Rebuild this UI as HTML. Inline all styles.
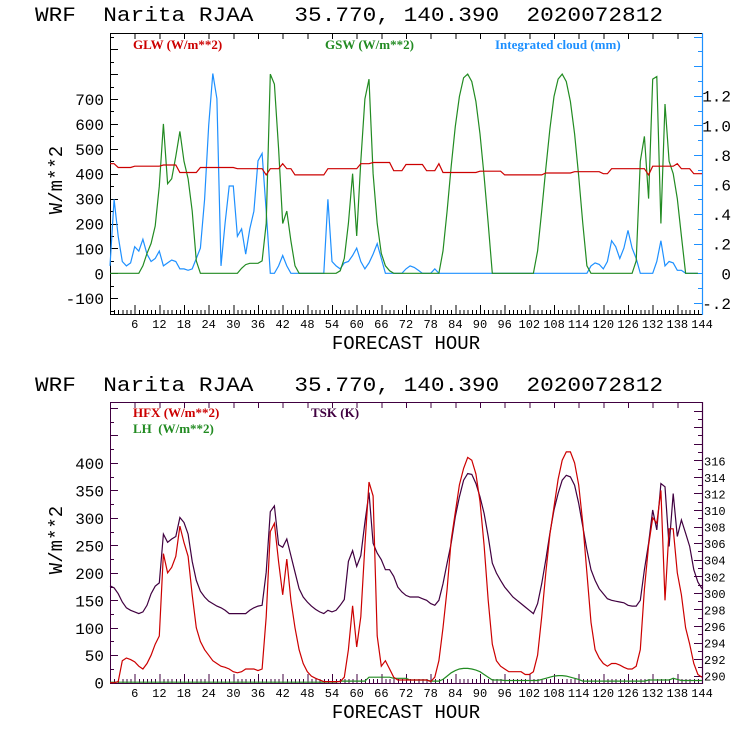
<!DOCTYPE html>
<html><head><meta charset="utf-8"><style>
html,body{margin:0;padding:0;background:#fff;}
svg{display:block;}
text{font-family:"Liberation Mono","DejaVu Sans Mono",monospace;white-space:pre;}
.lg{font-family:"Liberation Serif","DejaVu Serif",serif;font-size:13px;font-weight:bold;}
</style></head><body>
<svg id="chart" width="740" height="740" viewBox="0 0 740 740" xmlns="http://www.w3.org/2000/svg">
<text x="35" y="21" font-size="20" xml:space="preserve" textLength="628" lengthAdjust="spacingAndGlyphs">WRF  Narita RJAA   35.770, 140.390  2020072812</text>
<text x="35" y="391" font-size="20" xml:space="preserve" textLength="628" lengthAdjust="spacingAndGlyphs">WRF  Narita RJAA   35.770, 140.390  2020072812</text>
<g id="topPanel"></g>
<g id="botPanel"></g>
</svg>
<script>
const hours = [];
for (let h = 0; h <= 144; h++) hours.push(h);
const xTickLabels = ["6","12","18","24","30","36","42","48","54","60","66","72","78","84","90","96","102","108","114","120","126","132","138","144"];
const topLeftTicks = ["-100","0","100","200","300","400","500","600","700"];
const topRightTicks = ["-.2","0",".2",".4",".6",".8","1.0","1.2"];
const botLeftTicks = ["0","50","100","150","200","250","300","350","400"];
const botRightTicks = ["290","292","294","296","298","300","302","304","306","308","310","312","314","316"];

const glw = [440,440,425,425,425,425,430,430,430,430,430,430,430,435,435,435,435,405,405,405,405,405,425,425,425,425,425,425,425,425,425,420,420,420,420,420,420,420,395,420,420,420,440,420,420,395,395,395,395,395,395,395,395,420,420,420,420,420,420,420,420,440,440,440,445,445,445,445,445,412,412,412,437,437,437,437,437,412,412,412,440,405,405,405,405,405,405,405,405,405,410,410,410,410,410,410,395,395,395,395,395,395,395,395,395,395,403,403,403,403,403,403,403,408,408,408,408,408,408,408,400,400,420,420,420,420,420,420,420,420,420,395,430,430,430,430,430,430,440,420,420,420,400,400,400];
const gsw = [0,0,0,0,0,0,0,0,30,80,120,190,350,600,360,380,470,570,450,380,250,50,0,0,0,0,0,0,0,0,0,0,20,35,40,40,40,50,200,800,760,500,200,250,130,30,0,0,0,0,0,0,0,0,0,0,10,60,200,400,150,450,700,780,400,200,80,30,10,0,0,0,0,0,0,0,0,0,0,0,0,90,250,430,590,710,785,800,770,690,560,390,200,0,0,0,0,0,0,0,0,0,0,0,90,250,420,580,710,780,800,770,690,560,390,200,30,0,0,0,0,0,0,0,0,0,0,0,50,450,550,300,780,790,200,680,450,400,300,150,0,0,0,0];
const cloud = [0.05,0.5,0.25,0.08,0.05,0.07,0.18,0.15,0.23,0.13,0.08,0.1,0.15,0.05,0.07,0.09,0.08,0.03,0.03,0.02,0.03,0.1,0.17,0.5,1.0,1.35,1.18,0.05,0.34,0.59,0.59,0.25,0.3,0.13,0.3,0.42,0.76,0.81,0.42,0,0,0.05,0.12,0.05,0,0,0,0,0,0,0,0,0,0.5,0.08,0.05,0.03,0.07,0.08,0.12,0.17,0.08,0.03,0.07,0.13,0.2,0.1,0,0,0,0,0,0.03,0.05,0.04,0.02,0,0,0,0.03,0,0,0,0,0,0,0,0,0,0,0,0,0,0,0,0,0,0,0,0,0,0,0,0,0,0,0,0,0,0,0,0,0,0,0,0,0,0.05,0.07,0.06,0.03,0.08,0.22,0.18,0.1,0.17,0.29,0.17,0.1,0,0,0,0,0.08,0.22,0.05,0.08,0.07,0.02,0.02,0,0,0,0];
const hfx = [0,0,2,40,45,42,38,30,25,35,50,70,85,235,200,210,230,285,255,230,160,100,75,60,50,40,35,30,28,25,20,18,20,25,25,25,22,25,120,275,290,220,160,225,150,100,60,35,20,12,8,5,2,2,2,2,2,10,60,140,65,120,250,365,340,85,30,40,25,10,5,5,5,5,5,5,5,5,2,10,40,100,170,260,310,360,390,410,405,380,330,250,150,70,40,30,25,20,20,20,20,15,15,20,50,120,200,270,320,370,405,420,420,400,360,290,200,110,60,45,35,30,35,35,32,28,25,25,30,60,170,250,300,290,350,150,280,280,200,160,100,70,35,15,10];
const lh = [1,1,1,1,1,1,1,1,1,1,1,1,1,1,1,1,1,1,1,1,1,1,1,1,1,1,1,1,1,1,1,1,1,1,1,1,1,1,1,1,1,1,1,1,1,1,1,1,1,1,1,1,1,1,1,1,3,3,3,3,3,3,3,10,10,10,10,10,10,8,8,8,8,5,5,5,5,5,3,3,3,6,12,18,22,25,26,26,25,23,20,15,10,5,5,5,4,4,4,4,4,4,4,4,4,6,8,10,12,13,13,12,10,8,6,3,3,3,3,3,3,3,3,3,3,3,3,3,3,3,3,5,5,5,5,5,5,8,6,4,4,4,4,4,4];
const tsk = [300.85,300.6,299.9,298.9,298.2,297.9,297.7,297.5,297.7,298.5,299.9,300.8,301.2,307.1,306.1,306.5,306.8,309.1,308.5,307.1,303.8,301.5,300.2,299.5,299.0,298.7,298.4,298.2,297.9,297.5,297.5,297.5,297.5,297.5,297.9,298.2,298.4,298.5,302.5,309.8,310.5,305.8,305.5,306.5,304.5,302.5,300.5,299.5,298.9,298.4,298.0,297.7,297.5,297.9,297.7,297.9,298.5,299.2,303.8,305.1,303.2,304.5,308.5,312.1,306,304.8,304,302.8,302.8,302,300.7,300.1,299.7,299.5,299.5,299.5,299.3,299.1,298.7,298.5,299.1,301.1,303.6,306,309.2,311.6,313.6,314.4,314.3,313.2,311.6,309.6,306.8,303.6,302.4,301.5,300.7,300.1,299.5,299.1,298.7,298.3,297.9,297.5,298.7,301.1,304,307.2,310,312,313.6,314.2,314,313,310.8,308,305.2,302.8,301.5,300.5,299.9,299.3,299.1,299.0,298.9,298.8,298.5,298.4,298.4,299.1,302.8,306,310,307.6,313.2,312.8,305.6,312,306.8,308.8,307.2,305.6,302.8,301.3,300.5];

const NS = "http://www.w3.org/2000/svg";
const X0 = 110, X1 = 702;
const xs = h => X0 + (X1 - X0) * h / 144;
function mk(parent, tag, attrs) {
  const e = document.createElementNS(NS, tag);
  for (const k in attrs) e.setAttribute(k, attrs[k]);
  parent.appendChild(e);
  return e;
}
function line(g, x1, y1, x2, y2, c) {
  const l = mk(g, "line", {x1, y1, x2, y2, stroke: c, "stroke-width": 1, "shape-rendering": "crispEdges"});
  
  
  return l;
}
function txt(g, x, y, s, size, anchor, fill, name) {
  const t = mk(g, "text", {x, y, "font-size": size, "text-anchor": anchor, fill});
  t.textContent = s;
  
  
  return t;
}
function series(g, vals, ys, color, name) {
  let d = "";
  vals.forEach((v, i) => { d += (i ? "L" : "M") + xs(hours[i]).toFixed(1) + " " + ys(v).toFixed(1); });
  const p = mk(g, "path", {d, fill: "none", stroke: color, "stroke-width": 1.2});
  
  
}
function panel(g, Y0, Y1, frameColor, rightColor) {
  const r = mk(g, "rect", {x: X0 + 0.5, y: Y0 + 0.5, width: X1 - X0, height: Y1 - Y0, fill: "none", stroke: frameColor, "stroke-width": 1, "shape-rendering": "crispEdges"});
  
  
  const rl = mk(g, "line", {x1: X1 + 0.5, y1: Y0, x2: X1 + 0.5, y2: Y1 + 1, stroke: rightColor, "stroke-width": 1.2});
  
  
  for (let h = 1; h < 144; h++) {
    const big = h % 6 === 0;
    line(g, xs(h) + 0.5, Y1, xs(h) + 0.5, Y1 - (big ? 9 : 4), frameColor);
    if (big) line(g, xs(h) + 0.5, Y0, xs(h) + 0.5, Y0 + 6, frameColor);
  }
  xTickLabels.forEach(s => txt(g, xs(+s), Y1 + 14, s, 12, "middle", "#000", "x-tick-label"));
  txt(g, 406, Y1 + 35, "FORECAST HOUR", 19, "middle", "#000", "x-axis-title");
}

// TOP PANEL
const topG = document.getElementById("topPanel");
const tY0 = 33, tY1 = 314;
const yL = v => 273.3 - v * 0.249;
const yR = v => 273.3 - v * 148;
panel(topG, tY0, tY1, "#000", "#1e90ff");
for (let v = -150; v <= 950; v += 50) {
  const y = Math.round(yL(v)) + 0.5;
  if (y < tY0 || y > tY1) continue;
  line(topG, X0, y, X0 + (v % 100 === 0 ? 8 : 4), y, "#000");
}
topLeftTicks.forEach(s => txt(topG, 104, yL(+s) + 6, s, 16, "end", "#000", "y-left-tick-label"));
for (let k = -2; k <= 16; k++) {
  const y = Math.round(yR(k / 10)) + 0.5;
  if (y < tY0 || y > tY1) continue;
  line(topG, X1, y, X1 - (k % 2 === 0 ? 8 : 4), y, "#1e90ff");
}
topRightTicks.forEach(s => txt(topG, 731, yR(parseFloat(s)) + 6, s, 16, "end", "#000", "y-right-tick-label"));
const tl = txt(topG, 0, 0, "W/m**2", 19, "middle", "#000", "y-axis-title");
tl.setAttribute("transform", "translate(62,180) rotate(-90)");
series(topG, cloud, yR, "#1e90ff", "cloud-line");
series(topG, gsw, yL, "#228b22", "gsw-line");
series(topG, glw, yL, "#cc0000", "glw-line");
[["GLW (W/m**2)", 133, "#cc0000", "legend-glw"], ["GSW (W/m**2)", 325, "#228b22", "legend-gsw"], ["Integrated cloud (mm)", 495, "#1e90ff", "legend-cloud"]].forEach(a => {
  const t = txt(topG, a[1], 49, a[0], 13, "start", a[2], a[3]);
  t.setAttribute("class", "lg");
});

// BOTTOM PANEL
const botG = document.getElementById("botPanel");
const bY0 = 402, bY1 = 683;
const bL = v => 682.7 - v * 0.5495;
const bR = v => 675.7 - (v - 290) * 8.283;
panel(botG, bY0, bY1, "#400040", "#400040");
for (let v = 0; v <= 500; v += 25) {
  const y = Math.round(bL(v)) + 0.5;
  if (y < bY0 || y > bY1) continue;
  line(botG, X0, y, X0 + (v % 50 === 0 ? 8 : 4), y, "#400040");
}
botLeftTicks.forEach(s => txt(botG, 104, bL(+s) + 6, s, 16, "end", "#000", "y-left-tick-label"));
for (let k = 289; k <= 323; k++) {
  const y = Math.round(bR(k)) + 0.5;
  if (y < bY0 || y > bY1) continue;
  line(botG, X1, y, X1 - (k % 2 === 0 ? 8 : 4), y, "#400040");
}
botRightTicks.forEach(s => txt(botG, 704, bR(+s) + 5, s, 12, "start", "#000", "y-right-tick-label"));
const bl = txt(botG, 0, 0, "W/m**2", 19, "middle", "#000", "y-axis-title");
bl.setAttribute("transform", "translate(62,540) rotate(-90)");
series(botG, lh, bL, "#228b22", "lh-line");
series(botG, tsk, bR, "#400040", "tsk-line");
series(botG, hfx, bL, "#cc0000", "hfx-line");
[["HFX (W/m**2)", 133, 417, "#cc0000", "legend-hfx"], ["LH  (W/m**2)", 133, 433, "#228b22", "legend-lh"], ["TSK (K)", 311, 417, "#400040", "legend-tsk"]].forEach(a => {
  const t = txt(botG, a[1], a[2], a[0], 13, "start", a[3], a[4]);
  t.setAttribute("class", "lg");
});
</script>
</body></html>
